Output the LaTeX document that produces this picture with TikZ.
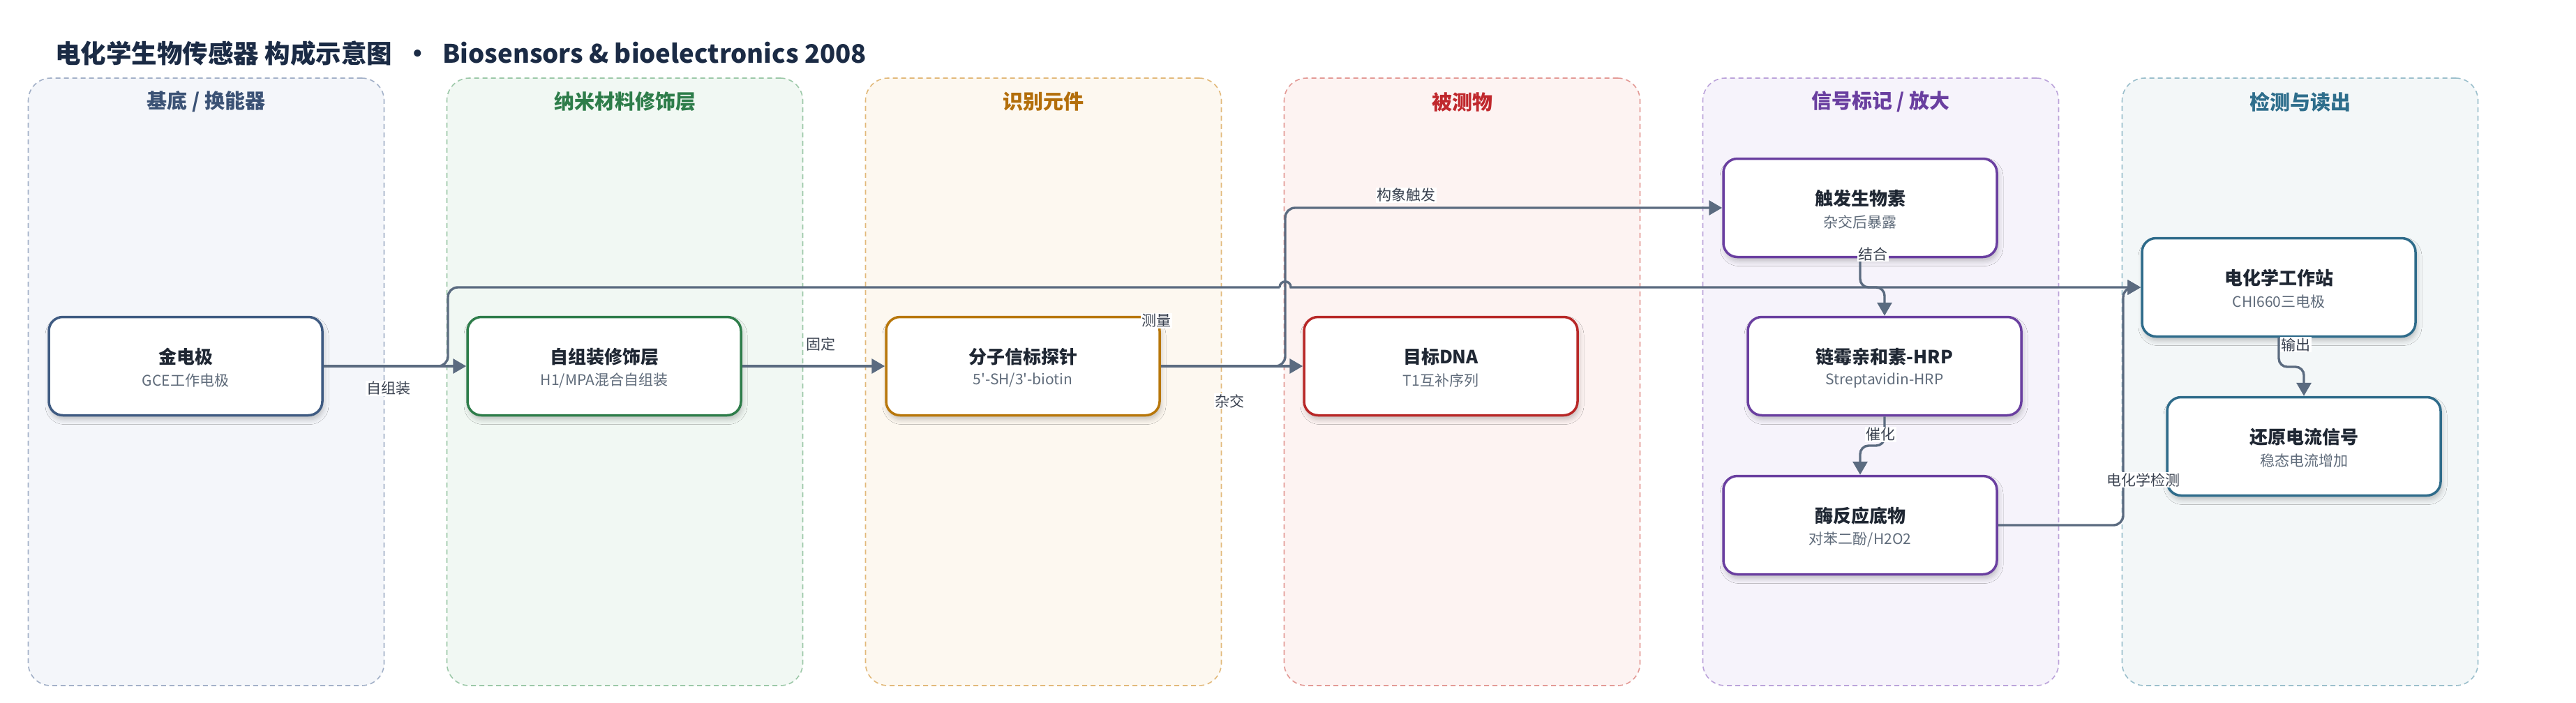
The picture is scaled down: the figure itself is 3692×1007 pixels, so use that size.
\documentclass[tikz,border=0pt]{standalone}
\usepackage{fontspec}
\setmainfont{Noto Sans CJK SC}[Ligatures=TeXOff]
\usetikzlibrary{arrows.meta,shadows.blur}
\definecolor{titlecol}{HTML}{1B2B45}
\definecolor{laneAf}{HTML}{F4F6FA}\definecolor{laneAd}{HTML}{A3B1C8}\definecolor{laneAt}{HTML}{3B5275}
\definecolor{laneBf}{HTML}{F1F8F3}\definecolor{laneBd}{HTML}{9CC8A8}\definecolor{laneBt}{HTML}{2E7D4A}
\definecolor{laneCf}{HTML}{FDF8F0}\definecolor{laneCd}{HTML}{E2B97A}\definecolor{laneCt}{HTML}{B36E0A}
\definecolor{laneDf}{HTML}{FDF3F2}\definecolor{laneDd}{HTML}{E39A96}\definecolor{laneDt}{HTML}{C0282D}
\definecolor{laneEf}{HTML}{F6F3FB}\definecolor{laneEd}{HTML}{BBA3DA}\definecolor{laneEt}{HTML}{6A3FA0}
\definecolor{laneFf}{HTML}{F3F7F8}\definecolor{laneFd}{HTML}{9BBFCC}\definecolor{laneFt}{HTML}{2E6E8C}
\definecolor{bA}{HTML}{3F5B82}
\definecolor{bB}{HTML}{2E7D4A}
\definecolor{bC}{HTML}{B8770B}
\definecolor{bD}{HTML}{B82828}
\definecolor{bE}{HTML}{6A3FA0}
\definecolor{bF}{HTML}{2E6B8A}
\definecolor{edgecol}{HTML}{5B6B80}
\definecolor{ttlcol}{HTML}{1F2733}
\definecolor{subcol}{HTML}{5F6B7A}
\definecolor{lblcol}{HTML}{3A4250}
\tikzset{
  lanebox/.style 2 args={draw=#1, fill=#2, line width=1.6pt, dash pattern=on 7pt off 5pt,
    rounded corners=32pt, minimum width=510pt, minimum height=871pt, inner sep=0pt},
  lanetitle/.style={font=\fontsize{29}{33}\selectfont\bfseries, text=#1, inner sep=0pt},
  block/.style={draw=#1, fill=white, line width=3.5pt, rounded corners=20pt,
    minimum width=392pt, minimum height=141pt, inner sep=0pt,
    blur shadow={shadow xshift=2pt, shadow yshift=-6pt, shadow blur radius=7pt, shadow opacity=22}},
  ttl/.style={font=\fontsize{26}{30}\selectfont\bfseries, text=ttlcol, inner sep=0pt},
  subt/.style={font=\fontsize{21}{25}\selectfont, text=subcol, inner sep=0pt},
  edge/.style={draw=edgecol, line width=3.4pt, -{Triangle[length=19pt,width=21pt]}},
  edgeplain/.style={draw=edgecol, line width=3.4pt},
  lbl/.style={fill=white, inner sep=1.5pt, font=\fontsize{21}{25}\selectfont, text=lblcol},
}
\newcommand{\mkblk}[6]{%
  \node[block=#4] (#1) at (#2,#3) {};
  \node[ttl] (#1-t) at ([yshift=13.5pt]#1.center) {#5};
  \node[subt] (#1-s) at ([yshift=-20.5pt]#1.center) {#6};
}
\begin{document}
\begin{tikzpicture}[x=1pt,y=-1pt]
\useasboundingbox[fill=white] (0,0) rectangle (3692,1007);
% title
\node[anchor=west, inner sep=0pt, font=\fontsize{36.5}{40}\selectfont\bfseries, text=titlecol] (title) at (79,77)
  {电化学生物传感器 构成示意图\hspace{18pt}•\hspace{18pt}Biosensors \& bioelectronics 2008};
% lanes
\node[lanebox={laneAd}{laneAf}] (lane1) at (295.5,547.5) {};
\node[lanebox={laneBd}{laneBf}] (lane2) at (895.5,547.5) {};
\node[lanebox={laneCd}{laneCf}] (lane3) at (1495.5,547.5) {};
\node[lanebox={laneDd}{laneDf}] (lane4) at (2095.5,547.5) {};
\node[lanebox={laneEd}{laneEf}] (lane5) at (2695.5,547.5) {};
\node[lanebox={laneFd}{laneFf}] (lane6) at (3296.5,547.5) {};
\node[lanetitle=laneAt] (lt1) at (295.5,146) {基底 / 换能器};
\node[lanetitle=laneBt] (lt2) at (895.5,146) {纳米材料修饰层};
\node[lanetitle=laneCt] (lt3) at (1495.5,146) {识别元件};
\node[lanetitle=laneDt] (lt4) at (2095.5,146) {被测物};
\node[lanetitle=laneEt] (lt5) at (2695.5,146) {信号标记 / 放大};
\node[lanetitle=laneFt] (lt6) at (3296.5,146) {检测与读出};
% coordinates for routing
\coordinate (c2) at (642,412);
\coordinate (hopL) at (1834,412);
\coordinate (hopR) at (1850,412);
\coordinate (c1) at (1842,298);
\coordinate (c3) at (2666,412);
\coordinate (c4) at (2701,412);
\coordinate (c5) at (2701,639);
\coordinate (c6) at (2666,639);
\coordinate (c7) at (3043,753);
\coordinate (c8) at (3043,412);
\coordinate (c9) at (3266,526);
\coordinate (c10) at (3302,526);
% blocks
\mkblk{el}{266}{525}{bA}{金电极}{GCE工作电极}
\mkblk{sam}{866}{525}{bB}{自组装修饰层}{H1/MPA混合自组装}
\mkblk{mb}{1466}{525}{bC}{分子信标探针}{5'-SH/3'-biotin}
\mkblk{dna}{2065}{525}{bD}{目标DNA}{T1互补序列}
\mkblk{trig}{2666}{298}{bE}{触发生物素}{杂交后暴露}
\mkblk{sa}{2701}{525}{bE}{链霉亲和素-HRP}{Streptavidin-HRP}
\mkblk{enz}{2666}{753}{bE}{酶反应底物}{对苯二酚/H2O2}
\mkblk{ews}{3266}{412}{bF}{电化学工作站}{CHI660三电极}
\mkblk{rc}{3302}{640}{bF}{还原电流信号}{稳态电流增加}
% edges
\draw[edge] (el.east) -- (sam.west);
\draw[edge] (sam.east) -- (mb.west);
\draw[edge] (mb.east) -- (dna.west);
\draw[edge, rounded corners=14pt] (mb.east) -| (c1) -- (trig.west);
\draw[edgeplain, rounded corners=14pt] (el.east) -| (c2) -- (hopL);
\draw[edge] (hopL) .. controls (1834,401) and (1850,401) .. (hopR) -- (ews.west);
\draw[edge, rounded corners=12pt] (trig.south) -- (c3) -- (c4) -- (sa.north);
\draw[edge, rounded corners=12pt] (sa.south) -- (c5) -- (c6) -- (enz.north);
\draw[edge, rounded corners=14pt] (enz.east) -- (c7) -- (c8) -- (ews.west);
\draw[edge, rounded corners=12pt] (ews.south) -- (c9) -- (c10) -- (rc.north);
% edge labels
\node[lbl] (l1) at (557,557) {自组装};
\node[lbl] (l2) at (1176,493) {固定};
\node[lbl] (l3) at (1762,575) {杂交};
\node[lbl] (l4) at (1657,460) {测量};
\node[lbl] (l5) at (2015,280) {构象触发};
\node[lbl] (l6) at (2684,364) {结合};
\node[lbl] (l7) at (2695,623) {催化};
\node[lbl] (l8) at (3072,688) {电化学检测};
\node[lbl] (l9) at (3290,494) {输出};
\end{tikzpicture}
\end{document}
